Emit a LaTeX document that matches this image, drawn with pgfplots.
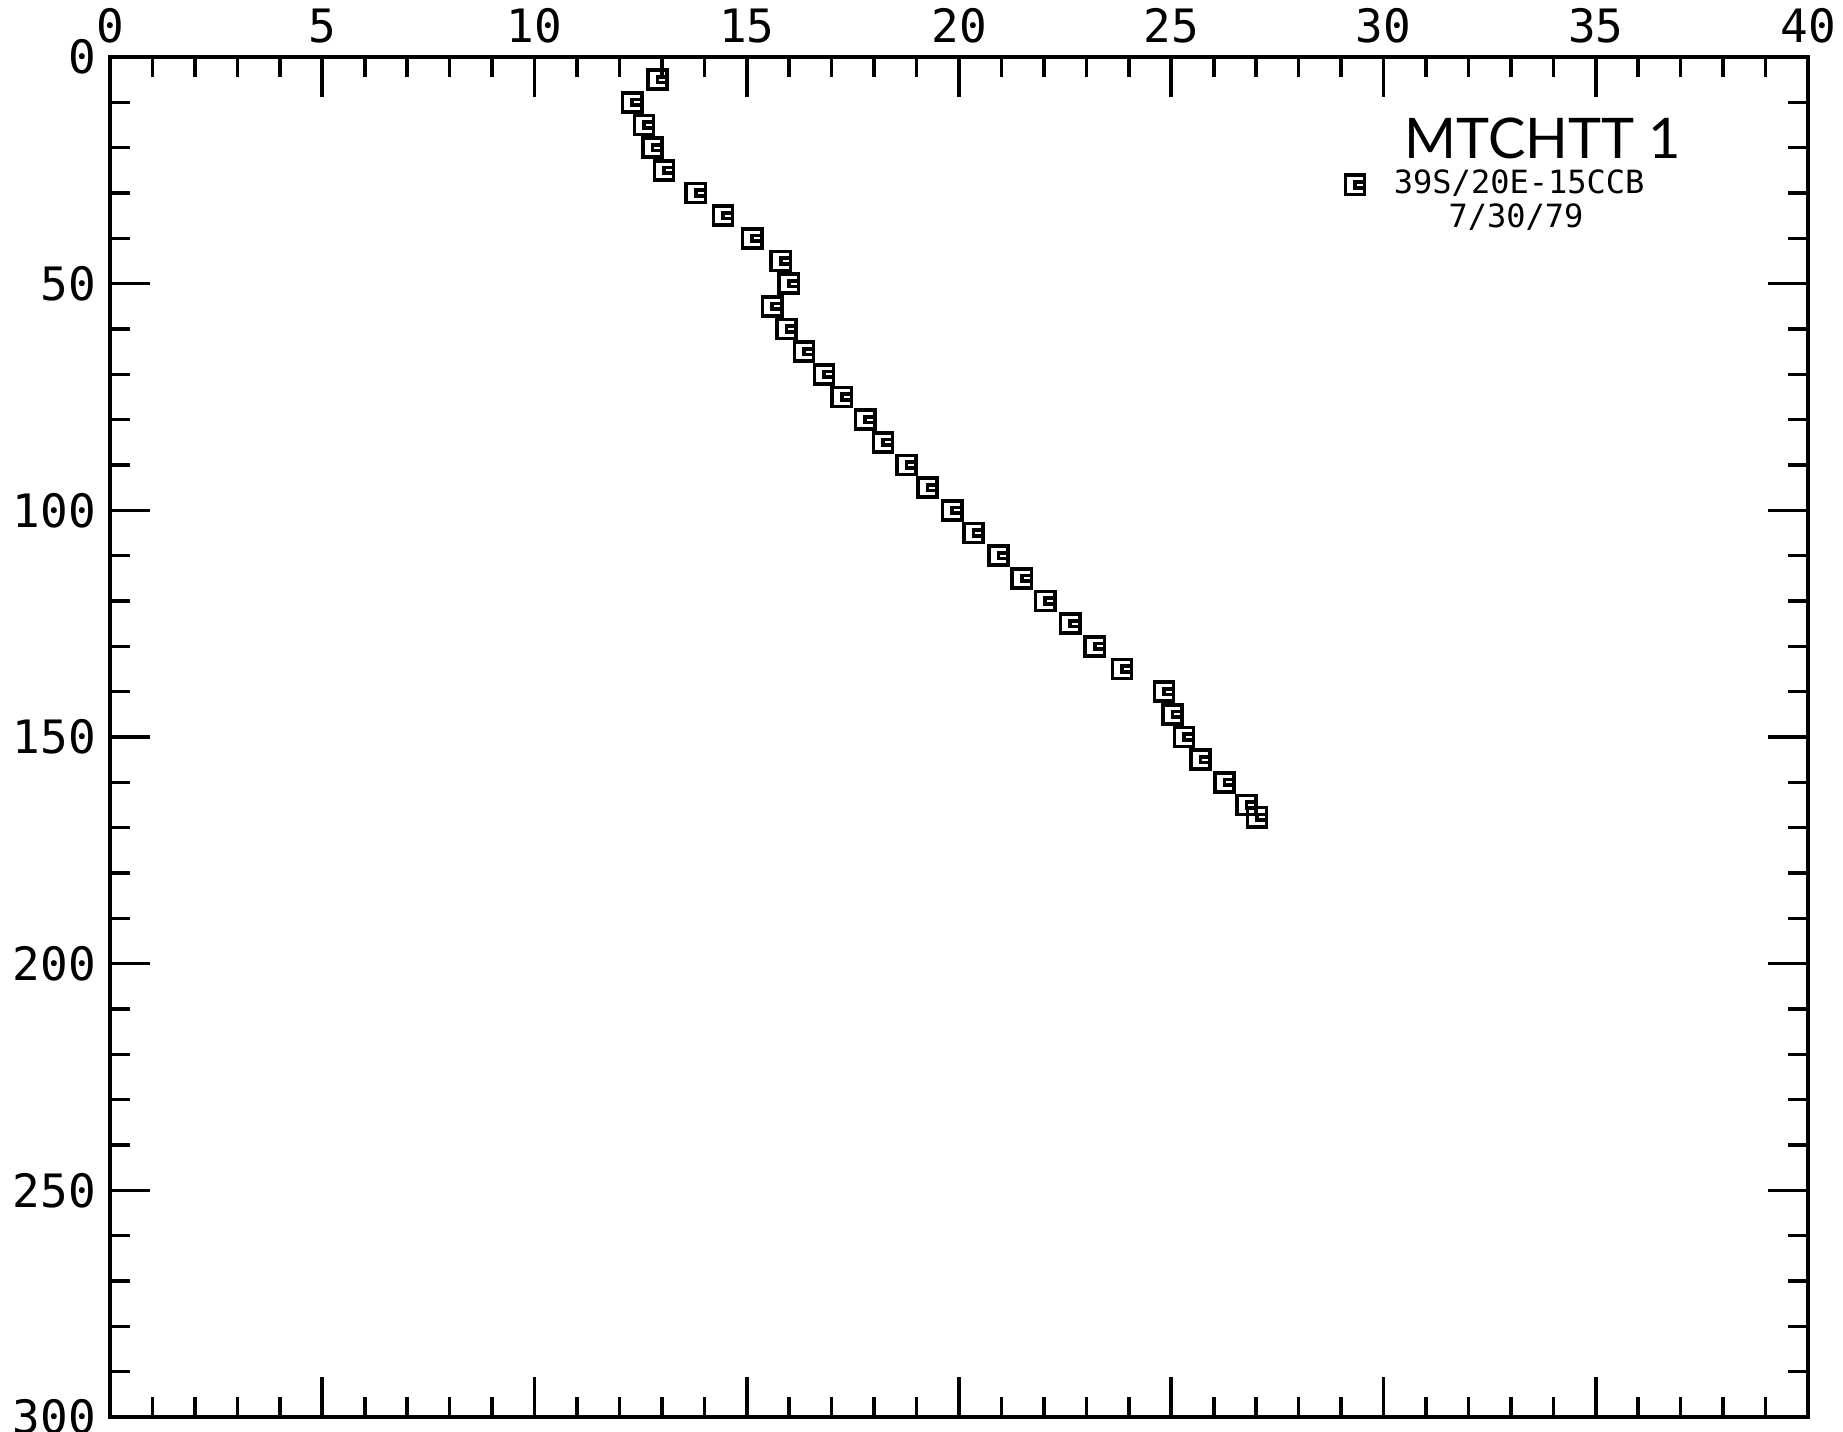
\documentclass[border=0pt]{standalone}
\usepackage{pgfplots}
\pgfplotsset{compat=1.18}
\usepackage{fontspec}
\setmainfont{DejaVu Sans Mono}[Numbers=SlashedZero]
\newfontfamily\hand{Lato}
\pgfdeclareplotmark{sqnotch}{%
  \pgfpathrectangle{\pgfqpoint{-\pgfplotmarksize}{-\pgfplotmarksize}}{\pgfqpoint{2\pgfplotmarksize}{2\pgfplotmarksize}}%
  \pgfpathmoveto{\pgfqpoint{\pgfplotmarksize}{0.3\pgfplotmarksize}}%
  \pgfpathlineto{\pgfqpoint{0pt}{0.3\pgfplotmarksize}}%
  \pgfpathlineto{\pgfqpoint{0pt}{-0.3\pgfplotmarksize}}%
  \pgfpathlineto{\pgfqpoint{\pgfplotmarksize}{-0.3\pgfplotmarksize}}%
  \pgfusepathqstroke
}
\pgfplotstableread{
x y
12.9 5
12.3 10
12.58 15
12.78 20
13.05 25
13.8 30
14.44 35
15.13 40
15.8 45
15.99 50
15.6 55
15.94 60
16.35 65
16.82 70
17.24 75
17.79 80
18.21 85
18.76 90
19.26 95
19.84 100
20.34 105
20.93 110
21.48 115
22.03 120
22.62 125
23.2 130
23.84 135
24.83 140
25.03 145
25.3 150
25.69 155
26.25 160
26.77 165
27.02 167.7
}\datatable
\begin{document}
\begin{tikzpicture}
\useasboundingbox (-27.5pt,-3.75pt) rectangle (433.25pt,354.25pt);
\begin{axis}[
  at={(0pt,0pt)}, anchor=south west,
  scale only axis, width=424.5pt, height=340pt,
  xmin=0, xmax=40, ymin=0, ymax=300, y dir=reverse,
  xtick={0,5,...,40}, ytick={0,50,...,300},
  minor x tick num=4, minor y tick num=4,
  xticklabel pos=top,
  tick align=inside,
  major tick length=10pt, minor tick length=5pt,
  axis line style={line width=1pt},
  every tick/.style={black, line width=0.9pt},
  /pgf/number format/assume math mode=true,
  tick label style={font=\fontsize{11.5}{11.5}\selectfont},
  legend style={draw=none, fill=none, inner sep=0pt, at={(axis cs:29.04,28.2)}, anchor=west,
    font=\fontsize{8}{8}\selectfont, nodes={inner sep=0pt}, column sep=0pt},
  legend image code/.code={\draw[#1] plot coordinates {(0pt,0pt)}; \path (-2.4pt,0pt) (9.3pt,0pt);},
]
\addplot[only marks, mark=sqnotch, mark size=2.4pt, line width=0.9pt, black] table[x=x,y=y] {\datatable};
\legend{39S/20E-15CCB}
\node[font=\fontsize{8}{8}\selectfont] at (axis cs:33.12,35.3) {7/30/79};
\node[font=\hand\fontsize{14}{14}\selectfont] at (axis cs:33.76,17.9) {MTCHTT 1};
\end{axis}
\end{tikzpicture}
\end{document}
